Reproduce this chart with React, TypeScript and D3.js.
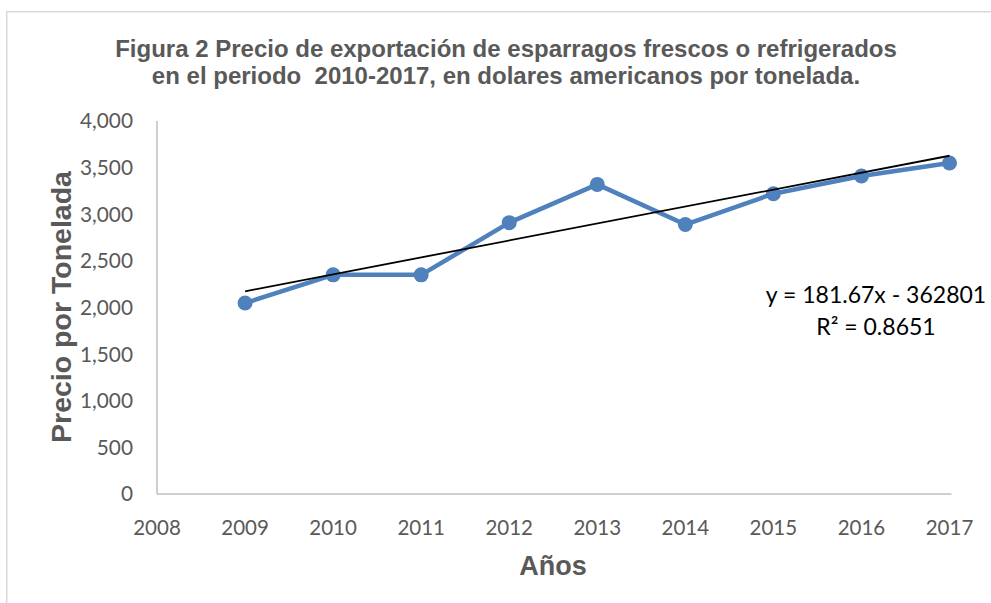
import React from "react";
import * as d3 from "d3";

const years = [2009, 2010, 2011, 2012, 2013, 2014, 2015, 2016, 2017];
const prices = [2048, 2350, 2350, 2910, 3320, 2890, 3220, 3410, 3550];
const xTicks = [2008, 2009, 2010, 2011, 2012, 2013, 2014, 2015, 2016, 2017];
const yTicks = [0, 500, 1000, 1500, 2000, 2500, 3000, 3500, 4000];
const trendSlope = 181.67;
const trendIntercept = -362801;
const titleLines = [
  "Figura 2 Precio de exportación de esparragos frescos o refrigerados",
  "en el periodo  2010-2017, en dolares americanos por tonelada.",
];
const equationLines = ["y = 181.67x - 362801", "R² = 0.8651"];
const xTitle = "Años";
const yTitle = "Precio por Tonelada";

const W = 991;
const H = 603;

export default function App() {
  const x = d3.scaleLinear().domain([2008, 2017]).range([157, 949.5]);
  const y = d3.scaleLinear().domain([0, 4000]).range([494, 121]);
  const pts = years.map((yr, i) => [x(yr), y(prices[i])] as [number, number]);
  const line = d3.line()(pts) || "";
  const tx0 = years[0];
  const tx1 = years[years.length - 1];
  const fmt = d3.format(",");
  const tickFont = "Lato, 'Open Sans', sans-serif";
  const boldFont = "'Liberation Sans', Arial, sans-serif";
  const gray = "#595959";

  return (
    <svg
      width={W}
      height={H}
      style={{ position: "absolute", left: 0, top: 0, background: "#fff" }}
    >
      <rect x={0} y={0} width={W} height={H} fill="#fff" />
      <rect
        x={6.75}
        y={11.75}
        width={W + 20}
        height={H + 20}
        fill="none"
        stroke="#d9d9d9"
        strokeWidth={1.5}
      />
      {titleLines.map((t, i) => (
        <text
          key={i}
          x={506}
          y={57 + i * 27}
          textAnchor="middle"
          fontFamily={boldFont}
          fontWeight="bold"
          fontSize={24}
          fill={gray}
          style={{ whiteSpace: "pre" }}
        >
          {t}
        </text>
      ))}
      {/* axes */}
      <line x1={x(2008)} x2={x(2008)} y1={y(4000)} y2={y(0)} stroke="#bfbfbf" strokeWidth={1.5} />
      <line x1={x(2008)} x2={x(2017) + 2} y1={y(0)} y2={y(0)} stroke="#bfbfbf" strokeWidth={1.5} />
      {yTicks.map((v) => (
        <text
          key={v}
          x={133}
          y={y(v)}
          dy="0.36em"
          textAnchor="end"
          fontFamily={tickFont}
          fontSize={20.8}
          fill={gray}
        >
          {fmt(v)}
        </text>
      ))}
      {xTicks.map((v) => (
        <text
          key={v}
          x={x(v)}
          y={535}
          textAnchor="middle"
          fontFamily={tickFont}
          fontSize={20.5}
          fill={gray}
        >
          {v}
        </text>
      ))}
      <text
        x={553}
        y={575}
        textAnchor="middle"
        fontFamily={boldFont}
        fontWeight="bold"
        fontSize={27}
        fill={gray}
      >
        {xTitle}
      </text>
      <text
        transform={`translate(71,307) rotate(-90)`}
        textAnchor="middle"
        fontFamily={boldFont}
        fontWeight="bold"
        fontSize={28.5}
        fill={gray}
      >
        {yTitle}
      </text>
      {/* series */}
      <path d={line} fill="none" stroke="#4F81BD" strokeWidth={4.5} strokeLinejoin="round" />
      {pts.map((p, i) => (
        <circle key={i} cx={p[0]} cy={p[1]} r={7.5} fill="#4F81BD" />
      ))}
      {/* trendline */}
      <line
        x1={x(tx0)}
        y1={y(trendSlope * tx0 + trendIntercept)}
        x2={x(tx1)}
        y2={y(trendSlope * tx1 + trendIntercept)}
        stroke="#000"
        strokeWidth={1.8}
      />
      {equationLines.map((t, i) => (
        <text
          key={i}
          x={876}
          y={303 + i * 32}
          textAnchor="middle"
          fontFamily={tickFont}
          fontSize={23}
          fill="#000"
        >
          {t}
        </text>
      ))}
    </svg>
  );
}
